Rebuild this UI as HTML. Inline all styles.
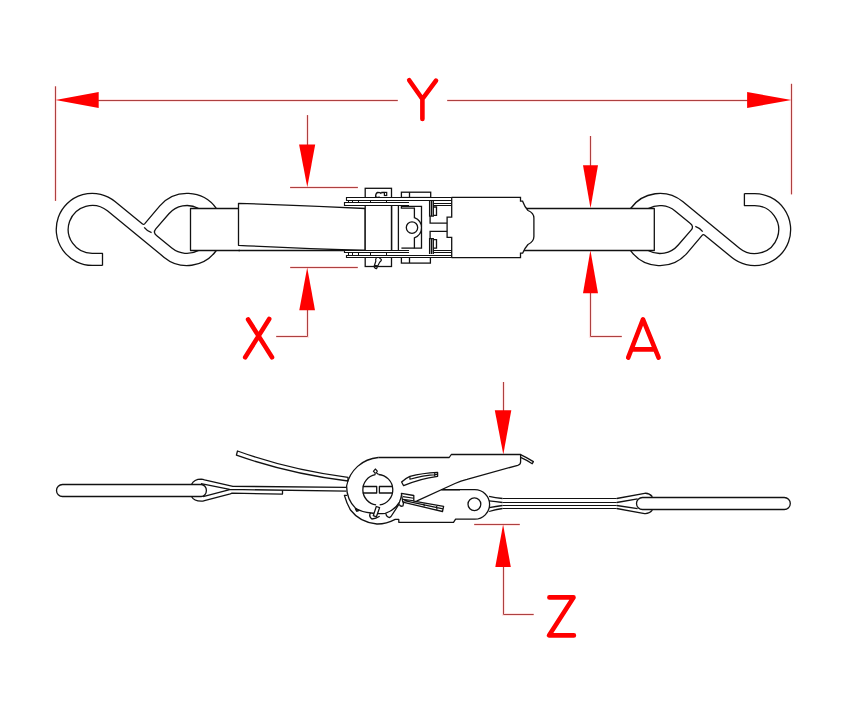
<!DOCTYPE html>
<html>
<head>
<meta charset="utf-8">
<style>
html,body{margin:0;padding:0;background:#fff;}
body{width:849px;height:705px;overflow:hidden;font-family:"Liberation Sans",sans-serif;}
svg{display:block;}
</style>
</head>
<body>
<svg width="849" height="705" viewBox="0 0 849 705">
<rect width="849" height="705" fill="#fff"/>

<!-- ============ TOP VIEW ============ -->
<g id="hookL" fill="none" stroke="#111" stroke-width="1.3" stroke-linejoin="round">
  <!-- outer contour of wire -->
  <path d="M102.5 265.4 L92.2 265.4 A36 36 0 1 1 115 201.5 L142.5 223.9 Q143.5 225 144.8 223.6 L159.8 205.9 A36 36 0 0 1 216.3 208.4"/>
  <path d="M216.3 250.5 A36 36 0 0 1 164.2 257.4 L107.4 210.8 A24 24 0 1 0 92.2 253.4 L102.5 253.4 L102.5 265.4"/>
  <!-- inner loop -->
  <path d="M198.6 250.4 A24 24 0 0 1 171.8 248.1 L156.8 235.8 Q152.6 232.6 155.8 228.8 L168.9 213.8 A24 24 0 0 1 198.3 208.3"/>
  <!-- crossing arc -->
  <path d="M144.2 227.3 Q147.2 231.2 151.6 232.6"/>
</g>
<use href="#hookL" transform="rotate(180 423.45 229.5)"/>

<g fill="#fff" stroke="#111" stroke-width="1.3" stroke-linejoin="round">
  <!-- left strap -->
  <path d="M240 208.5 H190.5 V250.5 H240" />
  <!-- right strap -->
  <rect x="520" y="208.5" width="134.3" height="42"/>
  <!-- tail piece -->
  <path d="M238.5 203.3 Q300 205.3 365.2 208.5 L365.2 250.5 Q300 248.5 238.5 245.3 Z"/>
  <line x1="238.5" y1="250.5" x2="365" y2="250.5"/>
</g>

<!-- ratchet top view -->
<g fill="#fff" stroke="#111" stroke-width="1.3" stroke-linejoin="miter">
  <!-- body -->
  <path d="M451.5 197.3 L520.5 197.3 L520.5 201.2 L522.6 201.2 Q524.5 206.5 528 210.5 Q533.9 213 533.9 218 L533.9 236.5 Q533.9 241.5 528 244.5 Q524.5 248.5 522.6 253.2 L520.5 253.2 L520.5 257.7 L451.5 257.7"/>
  <!-- handle box -->
  <rect x="365.2" y="188.3" width="26.3" height="78.2"/>
  <!-- top box -->
  <rect x="401.4" y="192.2" width="29.3" height="5.3"/>
  <line x1="409.5" y1="192.2" x2="409.5" y2="197.5"/>
  <rect x="401.4" y="257.3" width="29" height="5.8"/>
  <line x1="409.5" y1="257.3" x2="409.5" y2="263"/>
  <!-- plates -->
  <path d="M346.5 197.5 H451.7 V200.5 H409 V205.5 H344.5 V202.5 H346.5 Z M344.5 250.5 H409 V255.5 H451.7 V257.5 H346.5 V252.5 H344.5 Z" fill="#fff" stroke="none"/>
  <path d="M451.7 197.5 H346.5 V200.5 H451.7 M409 202.5 H344.5 V205.5 H409 M409 250.5 H344.5 V252.5 H409 M451.7 255.5 H346.5 V257.5 H451.7" fill="none" stroke-width="1.15"/>
  <path d="M348.5 200.5 V202.5 M352.5 200.5 V202.5 M358.5 200.5 V202.5 M370.5 200.5 V202.5 M386.5 200.5 V202.5 M348.5 252.5 V255.5 M352.5 252.5 V255.5 M358.5 252.5 V255.5 M370.5 252.5 V255.5 M386.5 252.5 V255.5" fill="none" stroke-width="1"/>
  <!-- handle inner verticals -->
  <line x1="391.6" y1="205.5" x2="391.6" y2="250.6"/>
  <line x1="398.4" y1="205.5" x2="398.4" y2="250.6"/>
  <!-- bracket -->
  <path d="M409.1 206.3 L421.5 206.3 L421.5 248.1 L414.4 248.1 L414.4 237.9 Q421.5 235 421.5 227.8 Q421.5 220.6 414.4 217.7 L414.4 208.2 L401.4 208.2 L401.4 206.3 Z"/>
  <path d="M401.4 248.1 L414.4 248.1" />
  <circle cx="412" cy="227.6" r="5.7"/>
  <!-- right E piece -->
  <path d="M451.7 197.3 L451.7 217.1 L447.1 217.1 L447.1 237.4 L451.7 237.4 L451.7 257.7" fill="none"/>
  <path d="M430.1 216.2 L430.1 223.1 L447.1 223.1 M430.1 238.5 L430.1 231.4 L447.1 231.4" fill="none"/>
  <path d="M429.6 201 L429.6 216.2 L433.3 216.2 L433.3 201 M431.5 201 L431.5 216.2" fill="none"/>
  <path d="M429.6 254 L429.6 238.6 L433.3 238.6 L433.3 254 M431.5 254 L431.5 238.6" fill="none"/>
  <path d="M433.3 207 L436.5 207 L436.5 215.3 L433.3 215.3 M433.3 239.6 L436.5 239.6 L436.5 248.2 L433.3 248.2" fill="none"/>
  <path d="M433.3 203.5 L451.7 203.5 M433.3 205.5 L451.7 205.5 M433.3 250.5 L451.7 250.5 M433.3 252.5 L451.7 252.5" fill="none" stroke-width="1.1"/>
</g>

<!-- small pins -->
<g fill="none" stroke="#111" stroke-width="1.2">
  <path d="M375.6 197 Q375.4 193.6 377.6 192.4 L380 192.6 L381.4 193.6 M381.3 192.5 H384.3" stroke-width="1.3"/>
  <path d="M376.6 196.8 L377.2 196 M378.8 196.8 L379.3 196" stroke-width="1"/>
  <rect x="384.4" y="192.4" width="2.3" height="3.1" stroke-width="1.2"/>
  <path d="M376.4 257.9 Q375.2 259.2 375.8 261.2 L374.2 266.2 Q374.2 268.4 376.6 268.6 L377.6 266.3 L379.6 262.3 Q381.9 260.6 381.2 259.3 L379.4 258.1 M374.6 265.4 L377.4 265.9" fill="none"/>
</g>

<!-- ============ SIDE VIEW ============ -->
<g fill="#fff" stroke="#111" stroke-width="1.3" stroke-linejoin="round">
  <!-- curved free tail -->
  <path d="M237.5 451 Q290 470 348 477.3 L348 481 Q290 474 236.4 455.2 Z"/>
  <!-- left rod -->
  <path d="M62.5 484.5 L201.2 484.5 A5.2 6 0 0 1 201.2 496.5 L62.5 496.5 A6 6 0 0 1 62.5 484.5 Z"/>
  <!-- strap around left rod -->
  <path d="M191.5 484.5 Q194 479.2 201.2 479.2 Q203 479.3 204.5 479.8 L232.9 486.3 L346.5 487.4" fill="none"/>
  <path d="M191.5 496.5 Q194 501.2 201.2 501.2 Q203 501.1 204.5 500.6 L230.3 493.8 L232 493.1 L282.5 494.1 L282.5 490.2" fill="none"/>
  <path d="M201 483.6 L229.7 489.4 L346.5 491.2 M203.1 496.7 L229.7 489.6" fill="none"/>

  <!-- right rod -->
  <path d="M642.5 497.5 L784.3 497.5 A6 6 0 0 1 784.3 509.5 L642.5 509.5 A6 6 0 0 1 642.5 497.5 Z"/>
  <!-- strap loop around right rod -->
  <path d="M616.7 498.5 L644.6 493.3 Q649 492.8 652.4 496.7 M652.4 510.1 Q649 514 644.6 513.6 L616.7 508.5" fill="none"/>
  <path d="M616.7 502.5 L637.6 498.8 M616.7 505.5 L637.6 508.7" fill="none"/>
  <!-- strap middle -->
  <path d="M502.5 498.5 L616.7 498.5 M502.5 502.5 L616.7 502.5 M502.5 505.5 L616.7 505.5 M502.5 508.5 L616.7 508.5" fill="none" stroke-width="1.1"/>
  <path d="M489.1 496.3 Q495 497.6 502.5 498.5 M489.1 500.9 Q496 501.6 502.5 502.5 M489.1 507.6 Q496 506.3 502.5 505.5 M489.1 511.5 Q495 509.4 502.5 508.5" fill="none"/>

  <!-- lever (top) -->
  <path d="M378.3 457.5 L449.2 457.5 L451.3 454.5 L520.6 454.5 L520.6 462 Q520.6 464.4 517.8 465.3 L467 479.3 Q461 480.8 455 483.5 L416.5 501.2" fill="none"/>
  <path d="M520.6 454.6 Q527 457.6 533.4 461.6 L532.2 463.7 Q526.5 460 520.6 457.4" fill="none"/>
  <!-- big lever arc -->
  <path d="M378.3 457.5 A35 35 0 0 0 346.6 486 Q346.6 499.5 355.7 508.4 Q362 512.2 371.2 513 Q378 514.2 385.3 513.4 Q395 510 399.5 502.1 Q401 498.5 401.6 494.5" fill="none"/>
  <path d="M355.2 508.2 L356.5 511 L359 510.6" fill="none"/>
  <!-- base frame -->
  <path d="M441 489.6 L474.8 489.6 A14.8 14.8 0 0 1 474.8 519.2 L455.6 519.2 L453.5 522.3 L398.8 522.3 L398.8 519.4 L395.2 519.4 Q386 524.2 376.9 524 Q360 522.5 350.5 510 Q346.5 503 344.4 495.4 L347.2 495.4" fill="none"/>
  <circle cx="474.4" cy="504.2" r="6.4"/>
  <!-- spindle -->
  <path d="M379.7 504.9 A15.3 15.3 0 0 0 378.6 474.5 M375.3 474.7 A15.3 15.3 0 0 0 376.1 504.9" fill="none"/>
  <path d="M362.8 486.5 L376.7 486.5 L376.7 493 L362.8 493 M393 486.5 L379.4 486.5 L379.4 493 L393 493" fill="none"/>
  <path d="M375.3 474.7 L375 472.8 L373.4 471.4 L375.3 469 L377.3 471.2 L376.3 472.8 L378.6 474.5" fill="none" stroke-width="1.2"/>
  <!-- upper curved piece -->
  <path d="M401.6 482 Q405 478.5 409.9 476.3 Q422 473.2 437.6 472.4 L437.6 476.3 Q420 478.5 403.6 485.7 Z"/>
  <path d="M409.9 476.3 L409.9 479.2 Q422 475.6 437.6 474.4 M434.7 472.6 L434.7 476.5" fill="none" stroke-width="1.1"/>
  <!-- pawl -->
  <path d="M401.4 493.4 L413.8 495.5 L413.8 501.2 L443.6 506.3 L442.5 511.5 L402.8 502.2 Z"/>
  <path d="M403 496.6 L413.8 498.2 M403 499.4 L413.8 500.8 M404.2 500.6 L443 508.9 M424.1 503.6 L424.1 506.6 M436.8 506 L436.8 509.8" fill="none" stroke-width="1.1"/>
  <!-- lower bits -->
  <path d="M376.3 506.5 L379.6 507.6 L376.4 516.8 L373.3 515.6 Z"/>
  <path d="M370.5 512.7 Q368.5 516.5 371.9 519 Q376 518.5 379.7 516.2" fill="none"/>
  <path d="M386 513.7 Q386 516.5 389.6 517.6 L391 516.5 L399.5 503.5" fill="none"/>
  <path d="M399.3 504.5 Q400.5 507 403 506 L403.7 501.4" fill="none"/>
  <path d="M355.7 508.4 L357.3 511.5" fill="none"/>
</g>
<line x1="441.8" y1="489.8" x2="460" y2="489.8" stroke="#111" stroke-width="1.3"/>

<!-- ============ RED DIMENSIONS ============ -->
<defs><g id="redlines">
  <!-- Y -->
  <line x1="55.5" y1="86.3" x2="55.5" y2="200.9"/>
  <line x1="791.5" y1="83.8" x2="791.5" y2="194.4"/>
  <line x1="98" y1="100.5" x2="397.8" y2="100.5"/>
  <line x1="447.2" y1="100.5" x2="748" y2="100.5"/>
  <!-- X -->
  <line x1="307.5" y1="115.1" x2="307.5" y2="145"/>
  <line x1="290.1" y1="187.5" x2="357.9" y2="187.5"/>
  <line x1="290.2" y1="267.5" x2="357.8" y2="267.5"/>
  <polyline points="307.5,310 307.5,336.5 276.2,336.5"/>
  <!-- A -->
  <line x1="590.5" y1="136" x2="590.5" y2="166"/>
  <polyline points="590.5,293 590.5,336.5 621.8,336.5"/>
  <!-- Z -->
  <line x1="503.5" y1="382" x2="503.5" y2="411"/>
  <line x1="474.2" y1="524.5" x2="519.8" y2="524.5"/>
  <polyline points="503.5,566.5 503.5,614.5 533.7,614.5"/>
</g></defs>
<use href="#redlines" stroke="#ffe2e2" stroke-width="3.2" fill="none"/>
<use href="#redlines" stroke="#ad4040" stroke-width="1" fill="none"/>
<g fill="#ff0000" stroke="none">
  <polygon points="55.5,100.1 98.7,91.9 98.7,108"/>
  <polygon points="791.4,100 747.1,92.1 747.1,107.9"/>
  <polygon points="307.3,187.3 299.1,144.4 315.2,144.4"/>
  <polygon points="307.2,267.4 299.3,310.3 315,310.3"/>
  <polygon points="590.5,208.3 583,165.2 598,165.2"/>
  <polygon points="590.4,250.3 583,293.2 598,293.2"/>
  <polygon points="503.3,454.5 494.8,410.3 511.3,410.3"/>
  <polygon points="503.1,524.4 495.3,567 510.8,567"/>
</g>
<!-- letters -->
<g stroke="#ff0000" stroke-width="4.6" stroke-linecap="round" stroke-linejoin="round" fill="none">
  <path d="M409.2 80.2 L422.4 99 L436 80.6 M422.4 99 L422.4 119"/>
  <path d="M248.1 319.4 L272 357.3 M269.2 319 L245.2 357.3"/>
  <path d="M628.2 357.6 L643 319.4 L658.6 357.6 M632.6 349.4 L654.7 349.4"/>
  <path d="M549.4 597.4 L573.5 597.4 L549 635.4 L573.9 635.4"/>
</g>
</svg>
</body>
</html>
